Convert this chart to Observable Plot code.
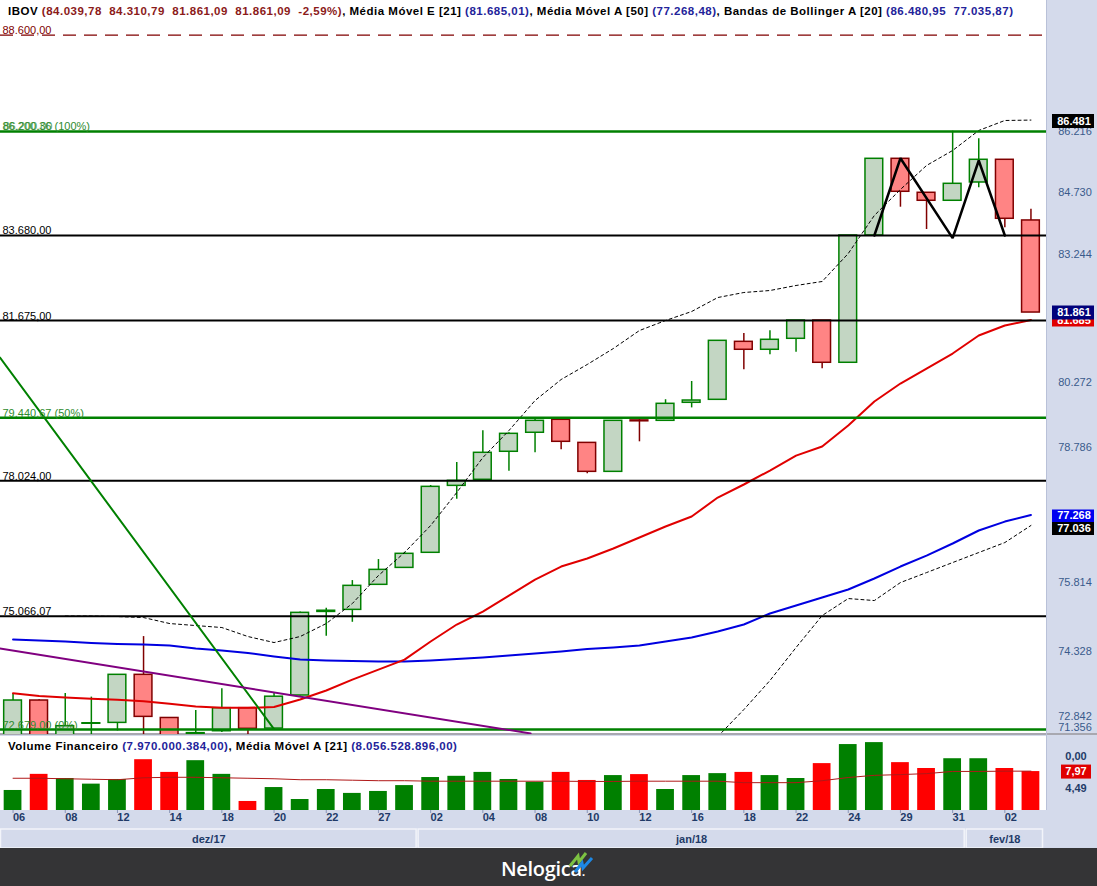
<!DOCTYPE html>
<html><head><meta charset="utf-8">
<script src="https://cdn.jsdelivr.net/npm/d3@7"></script>
<script src="https://cdn.jsdelivr.net/npm/@observablehq/plot@0.6"></script>
<style>
body{margin:0;background:#d4daeb;}
#wrap{position:relative;width:1097px;height:886px;overflow:hidden;background:#d4daeb;font-family:"Liberation Sans",Arial,sans-serif;}
.abs{position:absolute;}
.hdr{font-weight:bold;font-size:11.5px;letter-spacing:0.5px;white-space:nowrap;line-height:12px;}
.k{color:#000}.m{color:#8b1a1a}.b{color:#23239a}
</style></head><body>
<div id="wrap">
  <div class="abs" style="left:0;top:0;width:1046px;height:734px;background:#fff"></div>
  <div class="abs" style="left:0;top:736px;width:1046px;height:74px;background:#fff"></div>
  <div class="abs" style="left:0;top:733px;width:1097px;height:2px;background:#a8a8b0"></div>
  <div class="abs" style="left:1046px;top:0;width:1px;height:810px;background:#b9c1d8"></div>
  <div id="main" class="abs" style="left:0;top:0"></div>
  <div id="mainAxis" class="abs" style="left:1046px;top:0"></div>
  <div id="vol" class="abs" style="left:0;top:734px"></div>
  <div id="volAxis" class="abs" style="left:1046px;top:734px"></div>
  <div id="months" class="abs" style="left:0;top:829px"></div>
  <div class="abs hdr" style="left:8px;top:5px">
    <span class="k">IBOV </span><span class="m">(84.039,78&nbsp; 84.310,79&nbsp; 81.861,09&nbsp; 81.861,09&nbsp; -2,59%)</span><span class="k">, Média Móvel E [21] </span><span class="b">(81.685,01)</span><span class="k">, Média Móvel A [50] </span><span class="b">(77.268,48)</span><span class="k">, Bandas de Bollinger A [20] </span><span class="b">(86.480,95&nbsp; 77.035,87)</span>
  </div>
  <div class="abs hdr" style="left:8px;top:740px">
    <span class="k">Volume Financeiro </span><span class="b">(7.970.000.384,00)</span><span class="k">, Média Móvel A [21] </span><span class="b">(8.056.528.896,00)</span>
  </div>
  <div class="abs" style="left:0;top:848px;width:1097px;height:38px;background:#343436"></div>
  <div class="abs" style="left:501px;top:857px;color:#fff;font-family:'Open Sans',sans-serif;font-weight:600;font-size:20px;line-height:24px;letter-spacing:-0.3px">Nelogica<span style="font-size:13px">.</span></div>
  <svg class="abs" style="left:566px;top:850px" width="28" height="24" viewBox="0 0 28 24">
    <polyline points="4,16 12,6 13,12 20,3" fill="none" stroke="#7cc242" stroke-width="3"/>
    <polyline points="9,22 16,13 17,18 26,8" fill="none" stroke="#1e88e5" stroke-width="3"/>
  </svg>
</div>
<script>
// ---------- data ----------
const dates = ["06","07","08","11","12","13","14","15","18","19","20","21","22","26","27","28",
  "02","03","04","05","08","09","10","11","12","15","16","17","18","19","22","23","24","26","29","30","31",
  "01","02","05"];
const tickDays = [0,2,4,6,8,10,12,14,16,18,20,22,24,26,28,30,32,34,36,38];
const monthLabels = ["dez/17","jan/18","fev/18"];
const monthFirst = [0,16,37];
const monthLast = [15,36,39];

const opens  = [72400,73284,72450,72800,72818,73823,72920,72590,72645,73124,72700,73389,75160,75204,75743,76110,76438,77912,78047,78673,79101,79394,78873,78224,79380,79371,79780,79848,81180,80996,81250,81675,80696,83680,85531,84706,84513,84955,85507,84039.78];
const highs  = [73430,73300,73430,73355,73823,74633,72920,73074,73528,73140,73440,75160,75240,75835,76291,76450,77920,78433,79145,79100,79400,79420,78880,79371,79439,79850,80266,81203,81373,81435,81675,81675,83680,85531,85531,84706,86207,86022,85507,84310.79];
const lows   = [72200,72200,72400,72500,72650,72450,72400,72560,72620,72560,72690,73380,74640,74938,75743,76110,76438,77615,78047,78238,78650,78717,78180,78224,78897,79371,79664,79848,80534,80880,80940,80556,80696,83680,84358,83823,84513,84830,83864,81861.09];
const closes = [73284,72400,72749,72810,73823,72943,72450,72605,73124,72695,73364,75140,75185,75721,76067,76416,77890,78024,78650,79077,79371,78897,78224,79371,79360,79757,79832,81203,80996,81227,81675,80696,83680,85531,84730,84513,84923,85507,84080,81861.09];

const ema21 = [73437,73378,73346,73319,73298,73268,73214,73158,73131,73131,73148,73304,73493,73723,73934,74145,74528,74890,75168,75512,75857,76139,76314,76532,76772,77013,77233,77653,77942,78253,78588,78791,79264,79809,80220,80564,80909,81326,81558,81685.01];
const ma50 = [74570,74549,74528,74496,74474,74464,74443,74379,74337,74284,74210,74146,74125,74114,74104,74104,74125,74157,74189,74231,74273,74316,74369,74400,74443,74528,74613,74741,74890,75126,75297,75469,75642,75880,76139,76378,76641,76926,77122,77268.48];
const bbUpper = [null,null,75071,75071,75061,75039,74911,74868,74826,74634,74506,74634,74911,75340,75944,76444,77035,77764,78544,79151,79832,80312,80657,81025,81442,81675,81885,82212,82330,82377,82495,82589,83251,84159,84786,85368,85734,86225,86471,86480.95];
const bbLower = [null,null,null,null,null,null,null,null,null,null,null,null,null,null,null,null,null,null,null,null,null,null,null,null,null,71700,72150,72534,73095,73703,74400,75082,75447,75404,75792,76008,76226,76444,76662,77035.87];

const volumes = [4.1,7.4,6.55,5.4,6.35,10.4,7.8,10.2,7.4,1.85,4.7,2.25,4.3,3.5,3.9,5.1,6.75,7.0,7.8,6.35,5.8,7.8,6.15,7.15,7.35,4.3,7.15,7.55,7.8,7.15,6.55,9.6,13.5,13.9,9.8,8.6,10.6,10.6,8.6,7.97];
const volMA = [6.6,6.6,6.5,6.4,6.3,6.7,6.8,6.8,6.7,6.6,6.5,6.3,6.3,6.2,6.1,6.1,6.0,6.0,6.0,6.0,6.0,6.0,5.95,5.95,6.0,6.0,6.0,6.0,5.7,5.7,5.7,6.1,6.75,7.2,7.35,7.55,8.0,8.0,8.05,8.06];
const volTickValues = [11.05, 4.49];
const volTickLabels = ["0,00", "4,49"];

const priceTicks = [86216,84730,83244,80272,78786,75814,74328];
const priceTickLow = [72842];
const priceTickBottom = ["71.356"];

const targetLevel = [88600];
const targetLabel = ["88.600,00"];
const srLevels = [83680, 81675, 78024, 75066.07];
const srLabels = ["83.680,00","81.675,00","78.024,00","75.066,07"];
const fiboLevels = [86200.36, 79440.67, 72679];
const fiboLabels = ["86.200,36 (100%)","79.440,67 (50%)","72.679,00 (0%)"];
const fiboExtraLabel = ["86.200,00"];

const trendGreen = [{i:-0.5, p:80817},{i:10.0, p:72690}];
const trendPurple = [{i:-0.5, p:74378},{i:19.83, p:72599}];
const pattern = [{i:33, p:83680},{i:34, p:85545},{i:36, p:83616},{i:37, p:85490},{i:38, p:83680}];

const lastValues = {ema: 81685.01, close: 81861.09, bbU: 86480.95, ma50: 77268.48, bbL: 77035.87, vol: 7.97, volMA: 8.06};

// ---------- helpers ----------
const FONT = "'Liberation Sans', Arial, sans-serif";
const loc = d3.formatLocale({decimal: ",", thousands: ".", grouping: [3], currency: ["R$", ""]});
const fmtN = loc.format(",.0f");
const fmt2 = loc.format(".2f");
const N = dates.length;
const candles = dates.map((d, i) => ({i, o: opens[i], h: highs[i], l: lows[i], c: closes[i], v: volumes[i]}));
const upC = candles.filter(d => d.c >= d.o);
const dnC = candles.filter(d => d.c < d.o);
const X = {domain: [-0.5, N - 0.5], range: [-0.5, 1043.5], axis: null};
const Y = {type: "log", domain: [72577, 89482], range: [734, 0], axis: null};
const HW = 0.34;
const GREEN = "#008000", DRED = "#800000";
const st = {background: "transparent", fontFamily: FONT, overflow: "visible"};

const main = Plot.plot({
  width: 1046, height: 734, margin: 0, x: X, y: Y, style: st,
  marks: [
    Plot.ruleX(upC, {x: "i", y1: "l", y2: "h", stroke: GREEN, strokeWidth: 1.5, clip: true}),
    Plot.ruleX(dnC, {x: "i", y1: "l", y2: "h", stroke: DRED, strokeWidth: 1.5, clip: true}),
    Plot.rect(upC, {x1: d => d.i - HW, x2: d => d.i + HW, y1: "o", y2: "c", fill: "#c3d6c3", stroke: GREEN, strokeWidth: 1.5, clip: true}),
    Plot.rect(dnC, {x1: d => d.i - HW, x2: d => d.i + HW, y1: "o", y2: "c", fill: "#ff8484", stroke: DRED, strokeWidth: 1.5, clip: true}),
    Plot.line(bbUpper, {x: (d, i) => i, y: d => d, stroke: "#000", strokeWidth: 1, strokeDasharray: "3,3", clip: true}),
    Plot.line(bbLower, {x: (d, i) => i, y: d => d, stroke: "#000", strokeWidth: 1, strokeDasharray: "3,3", clip: true}),
    Plot.line(ma50, {x: (d, i) => i, y: d => d, stroke: "#0000e0", strokeWidth: 2, clip: true}),
    Plot.line(ema21, {x: (d, i) => i, y: d => d, stroke: "#e00000", strokeWidth: 2, clip: true}),
    Plot.ruleY(targetLevel, {stroke: DRED, strokeWidth: 1.2, strokeDasharray: "13,8"}),
    Plot.ruleY(srLevels, {stroke: "#000", strokeWidth: 2}),
    Plot.ruleY(fiboLevels, {stroke: GREEN, strokeWidth: 2.5}),
    Plot.line(trendGreen, {x: "i", y: "p", stroke: GREEN, strokeWidth: 2, clip: true}),
    Plot.line(trendPurple, {x: "i", y: "p", stroke: "#800080", strokeWidth: 2, clip: true}),
    Plot.line(pattern, {x: "i", y: "p", stroke: "#000", strokeWidth: 2.5, strokeLinejoin: "miter"}),
    Plot.text(targetLevel, {y: d => d, text: (d, i) => targetLabel[i], frameAnchor: "left", textAnchor: "start", lineAnchor: "bottom", dx: 2, dy: -1, fill: DRED, fontSize: 11}),
    Plot.text(srLevels, {y: d => d, text: (d, i) => srLabels[i], frameAnchor: "left", textAnchor: "start", lineAnchor: "bottom", dx: 2, dy: -1, fill: "#000", fontSize: 11}),
    Plot.text(fiboLevels, {y: d => d, text: (d, i) => fiboLabels[i], frameAnchor: "left", textAnchor: "start", lineAnchor: "bottom", dx: 2, dy: -1, fill: "#2e8b2e", fontSize: 11}),
    Plot.text(fiboLevels.slice(0, 1), {y: d => d, text: (d, i) => fiboExtraLabel[i], frameAnchor: "left", textAnchor: "start", lineAnchor: "bottom", dx: 3, dy: -1.5, fill: "#2e8b2e", fontSize: 11, opacity: 0.8})
  ]
});
document.getElementById("main").appendChild(main);

const boxTxt = {fill: "#fff", fontWeight: "bold", fontSize: 11, dx: 2};
const mainAxis = Plot.plot({
  width: 51, height: 734, margin: 0, y: Y, style: st,
  marks: [
    Plot.text(priceTicks, {y: d => d, text: d => fmtN(d), fill: "#3a5a8c", fontSize: 11, dx: 3, dy: 1}),
    Plot.text(priceTickLow, {y: d => d, text: d => fmtN(d), fill: "#3a5a8c", fontSize: 11, dx: 3, dy: -5}),
    Plot.text(priceTickBottom, {frameAnchor: "bottom", text: d => d, fill: "#3a5a8c", fontSize: 11, dx: 3, dy: -4}),
    Plot.ruleY([lastValues.ema], {stroke: "#e00000", strokeWidth: 13, insetLeft: 6, insetRight: 3, dy: 0}),
    Plot.text([lastValues.ema], {y: d => d, text: d => fmtN(d), ...boxTxt, dy: 0}),
    Plot.ruleY([lastValues.close], {stroke: "#00007a", strokeWidth: 14, insetLeft: 6, insetRight: 3}),
    Plot.text([lastValues.close], {y: d => d, text: d => fmtN(d), ...boxTxt}),
    Plot.ruleY([lastValues.bbU], {stroke: "#000", strokeWidth: 14, insetLeft: 6, insetRight: 3, dy: 1}),
    Plot.text([lastValues.bbU], {y: d => d, text: d => fmtN(d), ...boxTxt, dy: 1}),
    Plot.ruleY([lastValues.ma50], {stroke: "#0000f0", strokeWidth: 13, insetLeft: 6, insetRight: 3, dy: 1}),
    Plot.text([lastValues.ma50], {y: d => d, text: d => fmtN(d), ...boxTxt, dy: 1}),
    Plot.ruleY([lastValues.bbL], {stroke: "#000", strokeWidth: 13, insetLeft: 6, insetRight: 3, dy: 3}),
    Plot.text([lastValues.bbL], {y: d => d, text: d => fmtN(d), ...boxTxt, dy: 3})
  ]
});
document.getElementById("mainAxis").appendChild(mainAxis);

const VY = {domain: [0, 15.56], range: [76, 0], axis: null};
const vol = Plot.plot({
  width: 1046, height: 95, marginTop: 0, marginBottom: 19, marginLeft: 0, marginRight: 0,
  x: X, y: VY, style: st,
  marks: [
    Plot.rectY(upC, {x1: d => d.i - HW, x2: d => d.i + HW, y: "v", fill: GREEN}),
    Plot.rectY(dnC, {x1: d => d.i - HW, x2: d => d.i + HW, y: "v", fill: "#ff0000"}),
    Plot.line(volMA, {x: (d, i) => i, y: d => d, stroke: "#b01818", strokeWidth: 1}),
    Plot.axisX(tickDays, {anchor: "bottom", tickSize: 3, tickFormat: () => "", stroke: "#8a96b8"}),
    Plot.text(tickDays, {x: d => d, text: d => dates[d], frameAnchor: "bottom", dy: 10, dx: 6, fill: "#1f3a68", fontWeight: "bold", fontSize: 11})
  ]
});
document.getElementById("vol").appendChild(vol);

const volAxis = Plot.plot({
  width: 51, height: 76, margin: 0, y: VY, style: st,
  marks: [
    Plot.text(volTickValues, {y: d => d, text: (d, i) => volTickLabels[i], fill: "#1f3a68", fontWeight: "bold", fontSize: 11, dx: 4}),
    Plot.text([lastValues.volMA], {y: d => d, text: d => fmt2(d), fill: "#1f3a68", fontWeight: "bold", fontSize: 11, dx: 4}),
    Plot.ruleY([lastValues.vol], {stroke: "#e00000", strokeWidth: 14, insetLeft: 15, insetRight: 6}),
    Plot.text([lastValues.vol], {y: d => d, text: d => fmt2(d), fill: "#fff", fontWeight: "bold", fontSize: 11, dx: 4})
  ]
});
document.getElementById("volAxis").appendChild(volAxis);

const months = monthLabels.map((m, k) => ({label: m, first: monthFirst[k], last: monthLast[k]}));
const monthPlot = Plot.plot({
  width: 1046, height: 19, margin: 0, x: X, style: st,
  marks: [
    Plot.rect(months, {x1: d => d.first - 0.5, x2: d => d.last + 0.5, fill: "#d4daeb", stroke: "#f2f4fa", strokeWidth: 1.5, insetLeft: 1, insetRight: 1}),
    Plot.text(months, {x: d => (d.first + d.last) / 2, text: "label", fill: "#1f3a68", fontWeight: "bold", fontSize: 11})
  ]
});
document.getElementById("months").appendChild(monthPlot);
</script>
</body></html>
